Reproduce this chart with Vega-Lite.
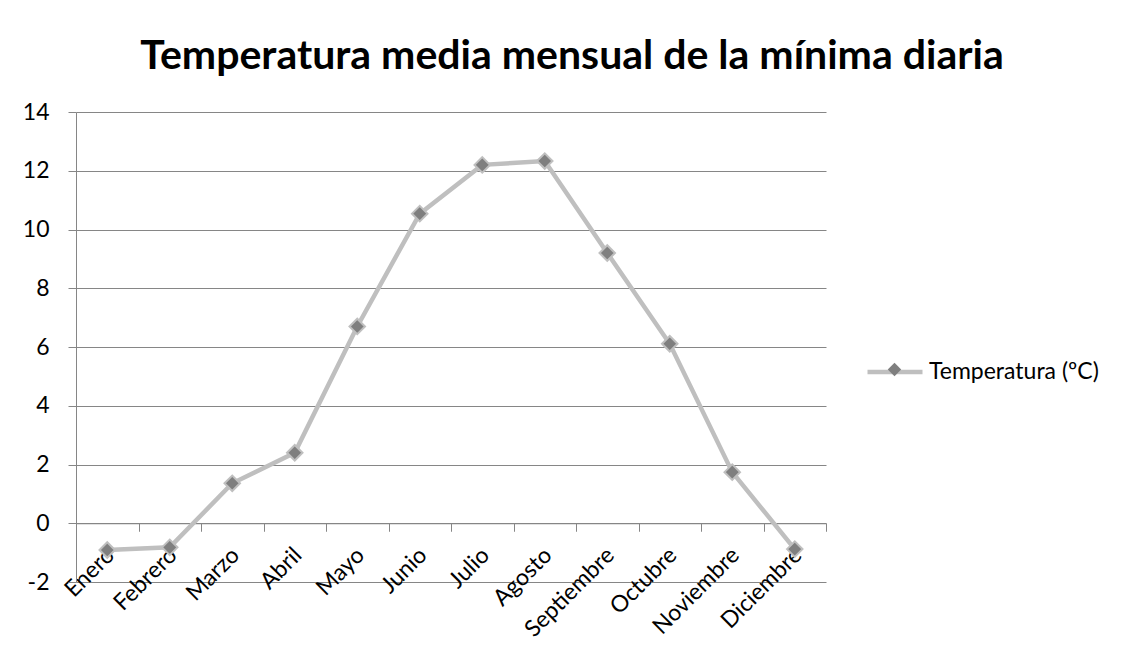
{
  "$schema": "https://vega.github.io/schema/vega-lite/v6.json",
  "width": 750,
  "height": 470,
  "autosize": {"type": "none"},
  "padding": {"left": 76, "top": 112, "right": 308, "bottom": 82},
  "background": "white",
  "title": {
    "text": "Temperatura media mensual de la mínima diaria",
    "font": "Lato",
    "fontSize": 41,
    "fontWeight": "bold",
    "color": "#000000",
    "frame": "group",
    "anchor": "middle",
    "dx": 121,
    "baseline": "alphabetic",
    "offset": -9
  },
  "data": {
    "values": [
      {"mes": "Enero", "temp": -0.91},
      {"mes": "Febrero", "temp": -0.82},
      {"mes": "Marzo", "temp": 1.36},
      {"mes": "Abril", "temp": 2.40},
      {"mes": "Mayo", "temp": 6.70},
      {"mes": "Junio", "temp": 10.54},
      {"mes": "Julio", "temp": 12.20},
      {"mes": "Agosto", "temp": 12.33},
      {"mes": "Septiembre", "temp": 9.20},
      {"mes": "Octubre", "temp": 6.11},
      {"mes": "Noviembre", "temp": 1.74},
      {"mes": "Diciembre", "temp": -0.88}
    ]
  },
  "encoding": {
    "x": {
      "field": "mes",
      "type": "nominal",
      "sort": null,
      "bandPosition": 0.5,
      "scale": {"type": "band", "paddingInner": 0, "paddingOuter": 0},
      "axis": {
        "title": null,
        "offset": -58.75,
        "grid": false,
        "tickBand": "extent",
        "tickSize": 8,
        "tickColor": "#868686",
        "domainColor": "#868686",
        "labelAngle": -45,
        "labelAlign": "right",
        "labelBaseline": "middle",
        "labelFont": "Lato",
        "labelFontSize": 23,
        "labelColor": "#000000",
        "labelPadding": 20,
        "labelOffset": 3
      }
    },
    "y": {
      "field": "temp",
      "type": "quantitative",
      "scale": {"domain": [-2, 14], "nice": false, "zero": false},
      "axis": {
        "title": null,
        "values": [-2, 0, 2, 4, 6, 8, 10, 12, 14],
        "labelExpr": "toString(datum.value)",
        "grid": true,
        "gridColor": "#868686",
        "domainColor": "#868686",
        "tickColor": "#868686",
        "tickSize": 8,
        "labelPadding": 19,
        "labelFont": "Lato",
        "labelFontSize": 23,
        "labelColor": "#000000"
      }
    }
  },
  "layer": [
    {
      "mark": {"type": "line", "strokeWidth": 4.5},
      "encoding": {
        "color": {
          "datum": "Temperatura (ºC)",
          "scale": {"range": ["#BFBFBF"]},
          "legend": {
            "title": null,
            "orient": "none",
            "legendX": 789,
            "legendY": 230,
            "padding": 0,
            "symbolType": "stroke",
            "symbolSize": 3025,
            "symbolStrokeWidth": 4.5,
            "labelOffset": 4,
            "labelLimit": 0,
            "labelFont": "Lato",
            "labelFontSize": 23,
            "labelColor": "#000000"
          }
        }
      }
    },
    {
      "mark": {"type": "point", "filled": true, "fill": "#7F7F7F", "stroke": "#BFBFBF", "strokeWidth": 2, "size": 240, "opacity": 1},
      "encoding": {
        "shape": {
          "datum": "marcador",
          "scale": {"range": ["diamond"]},
          "legend": {
            "title": null,
            "orient": "none",
            "legendX": 811,
            "legendY": 250,
            "padding": 0,
            "symbolSize": 180,
            "symbolFillColor": "#7F7F7F",
            "symbolStrokeColor": "#BFBFBF",
            "symbolStrokeWidth": 1.5,
            "symbolOpacity": 1,
            "labelExpr": "''"
          }
        }
      }
    }
  ],
  "config": {"view": {"stroke": null}}
}
